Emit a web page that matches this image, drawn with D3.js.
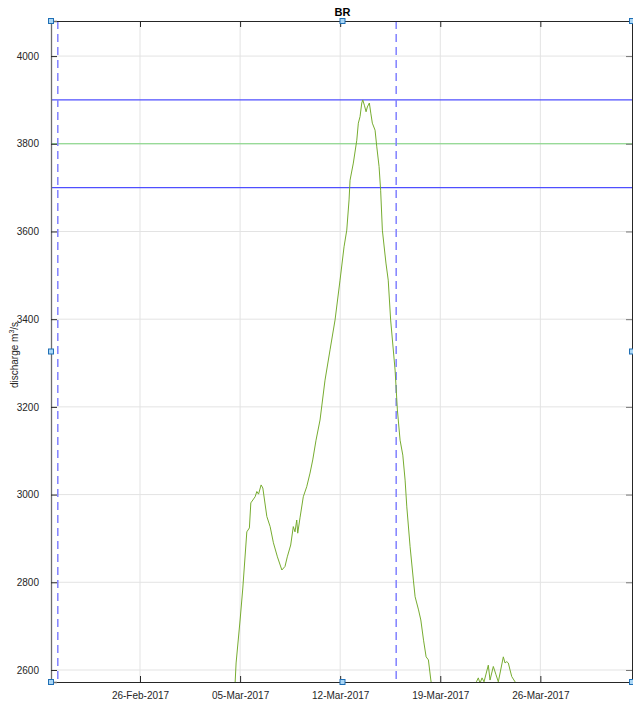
<!DOCTYPE html>
<html><head><meta charset="utf-8">
<script src="https://cdn.jsdelivr.net/npm/d3@7"></script>
<style>body{margin:0;background:#fff} text{font-family:"Liberation Sans",Arial,Helvetica,sans-serif}</style>
</head><body><svg id="c" width="633" height="701"></svg>
<script>
const title = "BR";
const yTicks = [2600, 2800, 3000, 3200, 3400, 3600, 3800, 4000];
const xTickDates = ["2017-02-26T00:00", "2017-03-05T00:00", "2017-03-12T00:00", "2017-03-19T00:00", "2017-03-26T00:00"];
const xDomain = ["2017-02-19T18:35", "2017-04-01T09:50"];
const yDomain = [2572.6, 4080];
const vLines = ["2017-02-20T06:00", "2017-03-15T22:00"];
const hBounds = [3700, 3900];
const hCenter = [3800];
// day of March 2017 (fractional) and discharge (m3/s)
const marchDay = [3.5, 4.55, 4.72, 5.0, 5.19, 5.47, 5.65, 5.75, 6.05, 6.17, 6.29, 6.47, 6.59, 6.87, 7.10, 7.33, 7.61, 7.92, 8.14, 8.30, 8.54, 8.72, 8.84, 8.96, 9.03, 9.19, 9.42, 9.66, 9.89, 10.08, 10.31, 10.59, 10.94, 11.29, 11.64, 11.99, 12.27, 12.46, 12.62, 12.69, 12.92, 13.16, 13.27, 13.39, 13.51, 13.58, 13.69, 13.81, 13.90, 14.04, 14.14, 14.25, 14.44, 14.56, 14.72, 14.83, 14.95, 15.20, 15.36, 15.53, 15.84, 16.00, 16.19, 16.38, 16.54, 16.66, 16.89, 17.12, 17.24, 17.48, 17.64, 17.83, 18.01, 18.17, 18.34, 18.57, 20.03, 21.43, 21.53, 21.66, 21.78, 21.92, 22.06, 22.36, 22.48, 22.71, 22.90, 23.06, 23.41, 23.53, 23.65, 23.76, 23.88, 24.0, 24.23, 24.44, 27.4, 31.4];
const discharge = [2400, 2505, 2616, 2714, 2787, 2915, 2924, 2981, 2995, 3007, 3001, 3022, 3015, 2950, 2927, 2890, 2858, 2828, 2836, 2858, 2885, 2927, 2915, 2942, 2912, 2947, 2995, 3018, 3049, 3079, 3124, 3170, 3261, 3330, 3398, 3489, 3565, 3603, 3672, 3717, 3756, 3808, 3847, 3862, 3893, 3900, 3888, 3873, 3884, 3893, 3870, 3847, 3831, 3793, 3748, 3694, 3603, 3528, 3489, 3398, 3284, 3193, 3124, 3090, 3033, 2972, 2881, 2805, 2767, 2737, 2714, 2668, 2630, 2623, 2577, 2530, 2480, 2560, 2573, 2582, 2570, 2582, 2573, 2611, 2577, 2608, 2589, 2573, 2630, 2616, 2619, 2616, 2600, 2585, 2573, 2530, 2450, 2400];

const parse = d3.timeParse("%Y-%m-%dT%H:%M");
const m = {left: 51, top: 21, right: 632, bottom: 682};
const svg = d3.select("#c");
const x = d3.scaleTime().domain(xDomain.map(parse)).range([m.left, m.right]);
const y = d3.scaleLinear().domain(yDomain).range([m.bottom, m.top]);
const xt = xTickDates.map(parse);
const mar1 = parse("2017-03-01T00:00");
const data = marchDay.map((d, i) => ({t: new Date(+mar1 + (d - 1) * 86400000), v: discharge[i]}));

svg.append("defs").append("clipPath").attr("id", "clip")
  .append("rect").attr("x", m.left).attr("y", m.top).attr("width", m.right - m.left).attr("height", m.bottom - m.top);

// grid
const g = svg.append("g");
g.selectAll(".gx").data(xt).join("line").attr("x1", d => x(d)).attr("x2", d => x(d))
  .attr("y1", m.top).attr("y2", m.bottom).attr("stroke", "#e3e3e3").attr("stroke-width", 1);
g.selectAll(".gy").data(yTicks).join("line").attr("y1", d => y(d)).attr("y2", d => y(d))
  .attr("x1", m.left).attr("x2", m.right).attr("stroke", "#e3e3e3").attr("stroke-width", 1);

const plot = svg.append("g").attr("clip-path", "url(#clip)");
// horizontal band lines
plot.selectAll(".hb").data(hBounds).join("line").attr("x1", m.left).attr("x2", m.right)
  .attr("y1", d => y(d)).attr("y2", d => y(d)).attr("stroke", "#4f4fff").attr("stroke-width", 1.3);
plot.selectAll(".hc").data(hCenter).join("line").attr("x1", m.left).attr("x2", m.right)
  .attr("y1", d => y(d)).attr("y2", d => y(d)).attr("stroke", "#5fcf5f").attr("stroke-width", 0.8);
// vertical dashed
plot.selectAll(".vl").data(vLines.map(parse)).join("line").attr("x1", d => x(d)).attr("x2", d => x(d))
  .attr("y1", m.top).attr("y2", m.bottom).attr("stroke", "#8080ff").attr("stroke-width", 1.5)
  .attr("stroke-dasharray", "8,5");
// data line
plot.append("path").datum(data).attr("fill", "none").attr("stroke", "#77ac30").attr("stroke-width", 1)
  .attr("d", d3.line().x(d => x(d.t)).y(d => y(d.v)));

// axes
const ax = svg.append("g");
const tickLen = 6;
const xAxisB = d3.axisBottom(x).tickValues(xt).tickFormat(d3.timeFormat("%d-%b-%Y")).tickSize(-tickLen).tickPadding(10);
ax.append("g").attr("transform", `translate(0,${m.bottom})`).call(xAxisB)
  .call(s => { s.select(".domain").attr("stroke", "#262626"); s.selectAll(".tick line").attr("stroke", "#262626");
    s.selectAll("text").attr("font-size", 10).attr("fill", "#262626").attr("font-family", "Liberation Sans, Arial, sans-serif"); });
const xAxisT = d3.axisTop(x).tickValues(xt).tickFormat("").tickSize(-tickLen);
ax.append("g").attr("transform", `translate(0,${m.top})`).call(xAxisT)
  .call(s => { s.select(".domain").attr("stroke", "#262626"); s.selectAll(".tick line").attr("stroke", "#262626"); });
const yAxisL = d3.axisLeft(y).tickValues(yTicks).tickFormat(d3.format("d")).tickSize(-tickLen).tickPadding(12);
ax.append("g").attr("transform", `translate(${m.left},0)`).call(yAxisL)
  .call(s => { s.select(".domain").attr("stroke", "#6e6e6e").attr("stroke-width", 1.3); s.selectAll(".tick line").attr("stroke", "#262626");
    s.selectAll("text").attr("font-size", 10).attr("fill", "#262626").attr("font-family", "Liberation Sans, Arial, sans-serif"); });
const yAxisR = d3.axisRight(y).tickValues(yTicks).tickFormat("").tickSize(-tickLen);
ax.append("g").attr("transform", `translate(${m.right},0)`).call(yAxisR)
  .call(s => { s.select(".domain").attr("stroke", "#262626"); s.selectAll(".tick line").attr("stroke", "#777"); });

// title
svg.append("text").attr("x", (m.left + m.right) / 2 + 1).attr("y", 16).attr("text-anchor", "middle")
  .attr("font-size", 11).attr("font-weight", "bold").attr("fill", "#000").text(title);
// y label
const yl = svg.append("text").attr("transform", `translate(18,355) rotate(-90)`)
  .attr("text-anchor", "middle").attr("font-size", 10).attr("fill", "#262626");
yl.append("tspan").text("discharge m");
yl.append("tspan").attr("font-size", 7).attr("dy", -4).text("3");
yl.append("tspan").attr("dy", 4).text("/s");

// selection handles
const mx = (m.left + m.right) / 2 + 1, my = (m.top + m.bottom) / 2;
const handles = [[m.left, m.top], [mx, m.top], [m.right, m.top], [m.left, my], [m.right, my], [m.left, m.bottom], [mx, m.bottom], [m.right, m.bottom]];
svg.selectAll(".hd").data(handles).join("rect").attr("x", d => d[0] - 2.5).attr("y", d => d[1] - 2.5)
  .attr("width", 5).attr("height", 5).attr("fill", "#aad6f5").attr("stroke", "#1f6fb5").attr("stroke-width", 1);
</script></body></html>
